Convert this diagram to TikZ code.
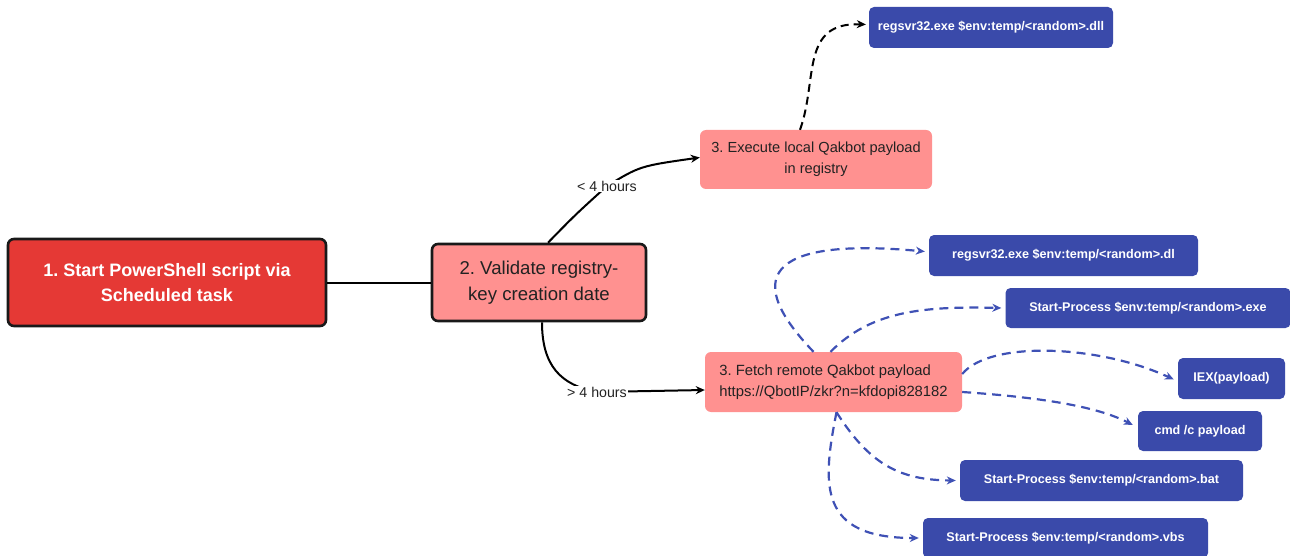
\documentclass[tikz,border=0pt]{standalone}
\usepackage{fontspec}
\setmainfont{Liberation Sans}
\usetikzlibrary{arrows.meta}
\definecolor{redbox}{HTML}{E53935}
\definecolor{pinkbox}{HTML}{FF9190}
\definecolor{bluebox}{HTML}{3A4AAA}
\definecolor{blueline}{HTML}{3F51B5}
\definecolor{darktext}{HTML}{222222}
\frenchspacing
\begin{document}
\begin{tikzpicture}[x=1pt,y=-1pt,
  mainbox/.style={draw=black!90,line width=2.6pt,rounded corners=6pt,align=center,inner sep=0pt},
  startbox/.style={mainbox,fill=redbox,text=white,font=\fontsize{18}{25}\selectfont\bfseries},
  checkbox/.style={mainbox,fill=pinkbox,text=darktext,font=\fontsize{18.6}{26}\selectfont},
  stagebox/.style={fill=pinkbox,rounded corners=6pt,text=darktext,align=center,inner sep=0pt,font=\fontsize{14.6}{21}\selectfont},
  cmdbox/.style={fill=bluebox,rounded corners=5pt,text=white,inner sep=0pt,font=\fontsize{12.6}{16}\selectfont\bfseries},
  solidarrow/.style={draw=black,line width=2pt,-{Stealth[length=9pt,width=8pt]}},
  blackdash/.style={solidarrow,dash pattern=on 8pt off 5pt},
  bluedash/.style={draw=blueline,line width=2.2pt,dash pattern=on 9pt off 6pt,-{Stealth[length=9pt,width=8pt]}},
  lbl/.style={fill=white,inner sep=1pt,text=darktext,font=\fontsize{14.2}{16}\selectfont}
]
\useasboundingbox (0,0) rectangle (1290,556);

\node[startbox,minimum width=318pt,minimum height=87pt] (n1) at (167,282.5) {1. Start PowerShell script via\\Scheduled task};
\node[checkbox,minimum width=214pt,minimum height=77pt] (n2) at (539,282.5) {2. Validate registry-\\key creation date};
\node[stagebox,minimum width=232pt,minimum height=59pt] (n3a) at (816,159.5) {3. Execute local Qakbot payload\\in registry};
\node[stagebox,minimum width=257pt,minimum height=60pt,align=left,font=\fontsize{14.8}{21}\selectfont] (n3b) at (833.5,382) {3. Fetch remote Qakbot payload\\https://QbotIP/zkr?n=kfdopi828182};

\node[cmdbox,minimum width=244pt,minimum height=41pt] (t) at (991,27.5) {regsvr32.exe \$env:temp/<random>.dll};
\node[cmdbox,minimum width=269pt,minimum height=41pt] (b1) at (1063.5,255.5) {regsvr32.exe \$env:temp/<random>.dl};
\node[cmdbox,minimum width=285pt,minimum height=40pt] (b2) at (1148,308) {Start-Process \$env:temp/<random>.exe};
\node[cmdbox,minimum width=107pt,minimum height=41pt] (b3) at (1231.5,378.5) {IEX(payload)};
\node[cmdbox,minimum width=124pt,minimum height=40pt] (b4) at (1200,431) {cmd /c payload};
\node[cmdbox,minimum width=283pt,minimum height=41pt] (b5) at (1101.5,480.5) {Start-Process \$env:temp/<random>.bat};
\node[cmdbox,minimum width=285pt,minimum height=40pt] (b6) at (1065.5,538) {Start-Process \$env:temp/<random>.vbs};

\draw[black,line width=2pt] (n1.east) -- (n2.west);

\draw[black,line width=2pt] ([xshift=9pt]n2.north) .. controls (575,215) .. (607,186) coordinate (lt);
\draw[solidarrow] (lt) .. controls (640,166) .. ([yshift=2pt]n3a.west);
\node[lbl] at (lt) {< 4 hours};

\draw[black,line width=2pt] ([xshift=3pt]n2.south) .. controls (542,365) and (560,385) .. (597,392) coordinate (gt);
\draw[solidarrow] (gt) -- ([yshift=-8pt]n3b.west);
\node[lbl] at (gt) {> 4 hours};

\draw[blackdash] ([xshift=-16pt]n3a.north) .. controls (818,80) and (800,22) .. ([xshift=-3pt,yshift=3pt]t.west);

\draw[bluedash] ([xshift=-20pt]n3b.north) .. controls (735,270) and (780,238) .. ([xshift=-4pt,yshift=4pt]b1.west);
\draw[bluedash] ([xshift=-3pt]n3b.north) .. controls (870,312) and (920,306) .. ([xshift=-4pt]b2.west);
\draw[bluedash] ([yshift=8pt]n3b.east) .. controls (990,340) and (1100,345) .. ([xshift=-4pt,yshift=-1pt]b3.west);
\draw[bluedash] ([yshift=-10pt]n3b.east) .. controls (1050,398) and (1100,408) .. ([xshift=-5pt,yshift=6pt]b4.west);
\draw[bluedash] ([xshift=3pt]n3b.south) .. controls (870,465) and (900,480) .. ([xshift=-4pt]b5.west);
\draw[bluedash] ([xshift=3pt]n3b.south) .. controls (822,485) and (818,538) .. ([xshift=-4pt]b6.west);
\end{tikzpicture}
\end{document}
